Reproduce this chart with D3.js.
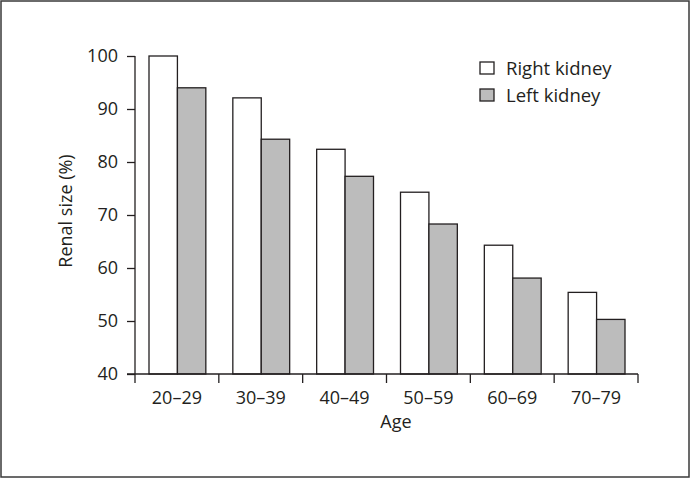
<!DOCTYPE html>
<html><head><meta charset="utf-8">
<script src="https://cdn.jsdelivr.net/npm/d3@7"></script>
<style>body{margin:0;background:#fff}svg{display:block}text{font-family:"Open Sans","Noto Sans",sans-serif;fill:#231f20}</style>
</head><body>
<script>
const categories = ["20–29","30–39","40–49","50–59","60–69","70–79"];
const seriesNames = ["Right kidney","Left kidney"];
const rightKidney = [100, 92.1, 82.4, 74.3, 64.3, 55.4];
const leftKidney = [94.0, 84.3, 77.3, 68.3, 58.1, 50.3];
const yTicks = [40,50,60,70,80,90,100];
const colors = ["#ffffff","#bcbcbc"];

const W=691,H=479;
const FF='"Open Sans","Noto Sans",sans-serif';
const svg=d3.select("body").append("svg").attr("width",W).attr("height",H);
svg.append("rect").attr("x",1).attr("y",1).attr("width",W-3).attr("height",H-3)
  .attr("fill","#fff").attr("stroke","#3a3a3a").attr("stroke-width",1.5);

const x0=d3.scaleBand().domain(categories).range([135,638]).paddingInner(0).paddingOuter(0);
const x1=d3.scaleBand().domain(seriesNames).range([14,x0.bandwidth()-13]);
const y=d3.scaleLinear().domain([40,100]).range([374,56]);

const data=[rightKidney,leftKidney];
const g=svg.append("g");
seriesNames.forEach((s,si)=>{
  g.selectAll(".b"+si).data(categories).join("rect")
   .attr("x",c=>x0(c)+x1(s)).attr("width",x1.bandwidth())
   .attr("y",(c,i)=>y(data[si][i])).attr("height",(c,i)=>y(40)-y(data[si][i]))
   .attr("fill",colors[si]).attr("stroke","#231f20").attr("stroke-width",1.3);
});

// y axis
const ya=svg.append("g").attr("transform","translate(135,0)")
 .call(d3.axisLeft(y).tickValues(yTicks).tickSize(8).tickPadding(9).tickFormat(d3.format("d")));
// x axis
const xa=svg.append("g").attr("transform","translate(0,374)");
xa.append("line").attr("x1",127).attr("x2",638).attr("y1",0).attr("y2",0).attr("stroke","#231f20").attr("stroke-width",1.3);
const bounds=categories.map(c=>x0(c)).concat([x0.range()[1]]);
xa.selectAll(".tk").data(bounds).join("line").attr("x1",d=>d).attr("x2",d=>d).attr("y1",0).attr("y2",9)
  .attr("stroke","#231f20").attr("stroke-width",1.3);
xa.selectAll(".lb").data(categories).join("text").attr("x",c=>x0(c)+x0.bandwidth()/2).attr("y",30)
  .attr("text-anchor","middle").attr("font-size",18).text(d=>d);
ya.select(".domain").attr("stroke","#231f20").attr("stroke-width",1.3).attr("d","M0,374V56");
ya.selectAll("line").attr("stroke","#231f20").attr("stroke-width",1.3);
ya.selectAll("text").attr("font-size",18).attr("fill","#231f20").style("font-family",FF);

svg.append("text").attr("x",396).attr("y",428).attr("text-anchor","middle").attr("font-size",18).text("Age");
svg.append("text").attr("transform","translate(72,211) rotate(-90)").attr("text-anchor","middle").attr("font-size",18).text("Renal size (%)");

// legend
const lg=svg.append("g");
seriesNames.forEach((s,i)=>{
  lg.append("rect").attr("x",480).attr("y",62+i*27).attr("width",14).attr("height",12)
    .attr("fill",colors[i]).attr("stroke","#231f20").attr("stroke-width",1.3);
  lg.append("text").attr("x",506).attr("y",75+i*27).attr("font-size",18.5).text(s);
});
</script>
</body></html>
